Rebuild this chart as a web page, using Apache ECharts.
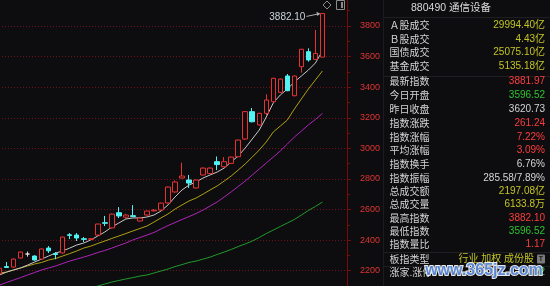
<!DOCTYPE html>
<html><head><meta charset="utf-8">
<script src="https://cdn.jsdelivr.net/npm/echarts@6/dist/echarts.min.js"></script>
<style>html,body{margin:0;padding:0;background:#0d0d10;overflow:hidden}#c{width:550px;height:286px;}</style>
</head><body><div id="c"></div>
<script>
// ---- data ----
const categories = ['d01','d02','d03','d04','d05','d06','d07','d08','d09','d10','d11','d12','d13','d14','d15','d16','d17','d18','d19','d20','d21','d22','d23','d24','d25','d26','d27','d28','d29','d30','d31','d32','d33','d34','d35','d36','d37','d38','d39','d40','d41','d42','d43','d44','d45','d46','d47','e1','e2','e3'];
const opens  = [2180,2227,2224,2283,2309,2296,2276,2348,2312,2316,2435,2433,2409,2405,2433,2514,2480,2579,2550,2560,2525,2564,2591,2597,2643,2715,2806,2793,2741,2826,2835,2913,2880,2902,2945,3061,3240,3153,3229,3305,3366,3473,3344,3534,3632,3582,3596.52];
const closes = [2216,2221,2276,2322,2309,2270,2342,2330,2306,2420,2431,2414,2405,2409,2505,2510,2570,2558,2564,2554,2544,2590,2596,2642,2747,2780,2819,2773,2793,2871,2871,2894,2913,2943,3054,3240,3174,3229,3316,3458,3453,3377,3473,3648,3578,3620.73,3881.97];
const lows   = [2176,2219,2220,2281,2292,2266,2272,2316,2275,2312,2407,2394,2387,2400,2430,2492,2476,2544,2540,2551,2522,2561,2588,2594,2640,2710,2803,2741,2738,2822,2832,2858,2877,2899,2942,3055,3170,3149,3218,3300,3362,3374,3340,3495,3567,3579,3596.52];
const highs  = [2220,2257,2280,2324,2325,2300,2345,2361,2322,2422,2446,2446,2420,2414,2507,2558,2573,2616,2572,2629,2547,2593,2603,2645,2750,2790,2906,2826,2796,2875,2875,2947,2943,2946,3057,3243,3264,3232,3353,3461,3456,3486,3476,3650,3654,3774,3882.10];
const ma5  = [2172,2191,2205,2218,2237,2257,2276,2296,2316,2329,2348,2368,2381,2401,2427,2453,2486,2512,2538,2545,2545,2551,2564,2590,2630,2682,2728,2760,2780,2806,2826,2845,2871,2911,2950,3002,3061,3120,3205,3297,3349,3388,3434,3473,3512,3558,3637];
const ma10 = [2185,2191,2205,2218,2231,2244,2254,2270,2280,2296,2312,2329,2348,2361,2378,2394,2411,2427,2443,2460,2476,2492,2518,2545,2571,2603,2630,2656,2675,2701,2728,2754,2786,2819,2858,2898,2943,2989,3042,3107,3146,3185,3257,3323,3388,3447,3506];
const ma20 = [2106,2123,2139,2155,2172,2188,2205,2218,2231,2247,2263,2276,2289,2303,2319,2332,2348,2365,2381,2401,2417,2433,2450,2473,2495,2515,2535,2554,2574,2597,2623,2649,2682,2715,2751,2786,2826,2865,2904,2943,2983,3028,3074,3113,3153,3189,3228];
const ma60 = ['-','-','-','-','-','-','-','-','-',2041,2054,2067,2077,2090,2100,2113,2126,2136,2146,2155,2165,2172,2185,2198,2211,2227,2240,2254,2263,2276,2289,2306,2322,2339,2358,2375,2394,2417,2443,2466,2489,2512,2535,2564,2594,2620,2649];
const dojiWhite = [4];
const yTicks = { min: 2000, max: 4000, step: 200 };
const panelTitle = '880490 通信设备';
const panelLabels = ['Ａ股成交','Ｂ股成交','国债成交','基金成交','最新指数','今日开盘','昨日收盘','指数涨跌','指数涨幅','平均涨幅','指数换手','指数振幅','总成交额','总成交量','最高指数','最低指数','指数量比','板指类型','涨家.涨停'];
const panelValues = ['29994.40亿','4.43亿','25075.10亿','5135.18亿','3881.97','3596.52','3620.73','261.24','7.22%','3.09%','6.76%','285.58/7.89%','2197.08亿','6133.8万','3882.10','3596.52','1.17','行业 加权 成份股','22'];
const panelTones  = ['y','y','y','y','r','g','w','r','r','r','w','w','y','y','r','g','r','y','g'];
const highLabel = '3882.10';

// ---- styles ----
const BG = '#0d0d10', RED = '#e83232', CYAN = '#50f2f2';
const TONE = { y: '#c4c424', r: '#ff3c3c', g: '#2ec22e', w: '#d4d4d4' };

const candleData = opens.map((o, i) => {
  const d = { value: [o, closes[i], lows[i], highs[i]] };
  if (dojiWhite.includes(i)) d.itemStyle = { color: '#dcdcdc', color0: '#dcdcdc', borderColor: '#dcdcdc', borderColor0: '#dcdcdc' };
  return d;
});

const chart = echarts.init(document.getElementById('c'), null, { renderer: 'canvas' });
const lineS = (name, data, color) => ({
  name, type: 'line', data, symbol: 'none', silent: true,
  lineStyle: { color, width: 1 }, z: 3, animation: false
});

// panel graphics
const g = [];
g.push({ type: 'line', shape: { x1: 383.5, y1: 0, x2: 383.5, y2: 286 }, style: { stroke: '#1c1c20', lineWidth: 1 } });
[17.5, 76.5, 252.5, 266.5].forEach(y => g.push({ type: 'line', shape: { x1: 384, y1: y, x2: 550, y2: y }, style: { stroke: '#1f1f23', lineWidth: 1 } }));
g.push({ type: 'text', x: 451, y: 8, style: { text: panelTitle, fill: '#d8d8d8', font: '10.5px "Liberation Sans","Noto Sans CJK SC"', align: 'center', verticalAlign: 'middle' } });
const rowY = [25.3,38.8,52.5,66,81.3,94.8,109.2,123.2,137,150.7,164.2,178,191.7,204.6,218.3,231.7,244.6,259.3,271.8];
panelLabels.forEach((lab, i) => {
  g.push({ type: 'text', x: 389.5, y: rowY[i], style: { text: lab, fill: '#d4d4d4', font: '10px "Noto Sans CJK SC"', align: 'left', verticalAlign: 'middle' } });
  const rx = i === 17 ? 534 : 545;
  g.push({ type: 'text', x: rx, y: rowY[i], style: { text: panelValues[i], fill: TONE[panelTones[i]], font: '10px "Liberation Sans","Noto Sans CJK SC"', align: 'right', verticalAlign: 'middle' } });
});
// small icon after 板指类型
g.push({ type: 'rect', shape: { x: 537, y: 254.5, width: 8, height: 9, r: 1 }, style: { fill: '#7a7a7a' } });
g.push({ type: 'text', x: 541, y: 259.3, style: { text: 'T', fill: '#1a1a1a', font: 'bold 7px "Liberation Sans"', align: 'center', verticalAlign: 'middle' } });
// top-right icons
g.push({ type: 'polygon', shape: { points: [[327,1],[331,5],[327,9],[323,5]] }, style: { fill: 'none', stroke: '#8a8a8a', lineWidth: 1 } });
g.push({ type: 'rect', shape: { x: 336.5, y: 0.5, width: 8, height: 9 }, style: { fill: 'none', stroke: '#8a8a8a', lineWidth: 1 } });
g.push({ type: 'rect', shape: { x: 341, y: 2, width: 2, height: 6 }, style: { fill: '#8a8a8a' } });
// watermark
g.push({ type: 'text', x: 484, y: 271, z: 100, style: { text: 'www.365jz.com', fill: '#4f7fd0', stroke: '#ffffff', lineWidth: 2, font: 'bold 16px "Liberation Sans"', align: 'center', verticalAlign: 'middle', opacity: 0.9 } });

chart.setOption({
  backgroundColor: BG,
  animation: false,
  grid: { left: -4, top: -4.6, width: 351, height: 305.9, outerBoundsMode: 'none', containLabel: false },
  xAxis: {
    type: 'category', data: categories, boundaryGap: true,
    axisLine: { show: false }, axisTick: { show: false }, axisLabel: { show: false }, splitLine: { show: false }
  },
  yAxis: {
    type: 'value', position: 'right', min: yTicks.min, max: yTicks.max, interval: yTicks.step, scale: true,
    axisLine: { show: true, lineStyle: { color: '#7a0a0a', width: 1 } },
    axisTick: { show: true, length: 4, lineStyle: { color: '#7a0a0a' } },
    minorTick: { show: true, splitNumber: 2, length: 3, lineStyle: { color: '#7a0a0a' } },
    axisLabel: { color: '#e03434', fontSize: 9, fontFamily: 'Liberation Sans', margin: 13,
      formatter: v => (v > yTicks.min && v < yTicks.max) ? String(v) : '' },
    splitLine: { show: true, lineStyle: { color: '#6a1420', type: [1, 2], width: 1 } }
  },
  series: [
    { type: 'candlestick', data: candleData, barWidth: 5, z: 5,
      itemStyle: { color: BG, color0: CYAN, borderColor: RED, borderColor0: CYAN, borderWidth: 1 } },
    lineS('MA60', ma60, '#1f9a2a'),
    lineS('MA20', ma20, '#b024b8'),
    lineS('MA10', ma10, '#b0a010'),
    lineS('MA5', ma5, '#c8c8c8')
  ],
  graphic: g
});

// high annotation anchored to the last candle's high via the axes
const last = opens.length - 1;
const p = chart.convertToPixel({ seriesIndex: 0 }, [last, highs[last]]);
g.push({ type: 'text', x: p[0] - 17, y: p[1] + 4, style: { text: highLabel, fill: '#c8d2dc', font: '10px "Liberation Sans"', align: 'right', verticalAlign: 'middle' } });
g.push({ type: 'line', shape: { x1: p[0] - 16, y1: p[1] + 3, x2: p[0] - 4, y2: p[1] + 0.5 }, style: { stroke: '#b0b0b0', lineWidth: 1 } });
g.push({ type: 'polygon', shape: { points: [[p[0] - 2, p[1] + 0.2], [p[0] - 6, p[1] - 1.8], [p[0] - 5.2, p[1] + 2.6]] }, style: { fill: '#b0b0b0' } });
chart.setOption({ graphic: g });
</script>
</body></html>
